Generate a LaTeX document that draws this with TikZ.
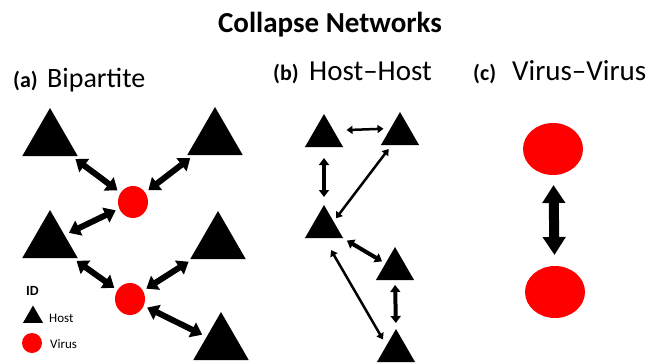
\documentclass[tikz,border=0pt]{standalone}
\usepackage{fontspec}
\setmainfont{Carlito}
\usetikzlibrary{shapes.geometric}
\usetikzlibrary{arrows.meta}

\tikzset{
  host/.style={regular polygon, regular polygon sides=3, fill=black, draw=none, inner sep=0pt, outer sep=0pt},
  virus/.style={ellipse, fill=red, draw=none, inner sep=0pt, outer sep=0pt},
  lbl/.style={anchor=base west, inner sep=0pt},
  bip/.style={line width=6pt, {Triangle[width=16pt,length=11pt]}-{Triangle[width=16pt,length=11pt]}, shorten <=5pt, shorten >=4pt},
  slim/.style={line width=2.5pt, {Triangle[width=8pt,length=6pt]}-{Triangle[width=8pt,length=6pt]}},
  stout/.style={line width=4pt, {Triangle[width=10pt,length=7pt]}-{Triangle[width=10pt,length=7pt]}},
  vv/.style={line width=10pt, {Triangle[width=22pt,length=18pt]}-{Triangle[width=22pt,length=18pt]}}
}
\newcommand{\hostnode}[4]{\node[host, minimum size=#4] (#1) at (#2,#3) {};}
\newcommand{\virusnode}[5]{\node[virus, minimum width=#4, minimum height=#5] (#1) at (#2,#3) {};}
\newcommand{\fs}[1]{\fontsize{#1}{#1}\selectfont}

\begin{document}
\begin{tikzpicture}[x=1pt,y=-1pt]
        \useasboundingbox (0,0) rectangle (652,362);

        % title
        \node[anchor=base, inner sep=0pt, font=\bfseries\fs{29}] (title) at (330,32) {Collapse Networks};

        % headings
        \node[lbl, font=\bfseries\fs{22}] (ha) at (13,87) {(a)};
        \node[lbl, font=\fs{28}] (hatxt) at (47,87) {Bipartite};
        \node[lbl, font=\bfseries\fs{22}] (hb) at (273,80) {(b)};
        \node[lbl, font=\fs{29}] (hbtxt) at (309,80) {Host–Host};
        \node[lbl, font=\bfseries\fs{22}] (hc) at (473,80) {(c)};
        \node[lbl, font=\fs{29}] (hctxt) at (512,80) {Virus–Virus};

        % (a) hosts and viruses
        \hostnode{tl}{50}{140}{64}
        \hostnode{tr}{215}{139}{64}
        \hostnode{ml}{50}{242}{64}
        \hostnode{mr}{218}{243}{64}
        \hostnode{br}{221}{344}{64}
        \virusnode{v1}{133}{202}{30pt}{32pt}
        \virusnode{v2}{130}{299}{30pt}{32pt}

        \draw[bip] (tl) -- (v1);
        \draw[bip] (tr) -- (v1);
        \draw[bip] (ml) -- (v1);
        \draw[bip] (ml) -- (v2);
        \draw[bip] (mr) -- (v2);
        \draw[bip] (br) -- (v2);

        % legend
        \node[lbl, font=\bfseries\fs{14}] (id) at (26,295) {ID};
        \hostnode{lhost}{33}{317}{23}
        \virusnode{lvir}{32}{343}{20pt}{20pt}
        \node[lbl, font=\fs{13}] (lhosttxt) at (49,322) {Host};
        \node[lbl, font=\fs{13}] (lvirtxt) at (50,348) {Virus};

        % (b) host-host
        \hostnode{h1}{324}{136}{44}
        \hostnode{h2}{400}{134}{44}
        \hostnode{h3}{324}{227}{44}
        \hostnode{h4}{395}{269}{44}
        \hostnode{h5}{396}{351}{44}

        \draw[slim, shorten <=13pt, shorten >=7pt] (h1.side 3) -- (h2.side 1);
        \draw[stout, shorten <=11pt, shorten >=8pt] (h1.side 2) -- (h3.corner 1);
        \draw[slim, shorten <=5pt, shorten >=4pt] (h2) -- (h3.side 3);
        \draw[stout, shorten <=5pt, shorten >=4pt] (h3) -- (h4);
        \draw[stout, shorten <=5pt, shorten >=6pt] (h4.side 2) -- (h5.corner 1);
        \draw[slim, shorten <=14pt, shorten >=7pt] (h3.side 2) -- (h5.side 1);

        % (c) virus-virus
        \virusnode{c1}{553}{149}{60pt}{52pt}
        \virusnode{c2}{555}{292}{60pt}{52pt}

        \draw[vv, shorten <=10pt, shorten >=11pt] (c1) -- (c2);

\end{tikzpicture}
\end{document}
